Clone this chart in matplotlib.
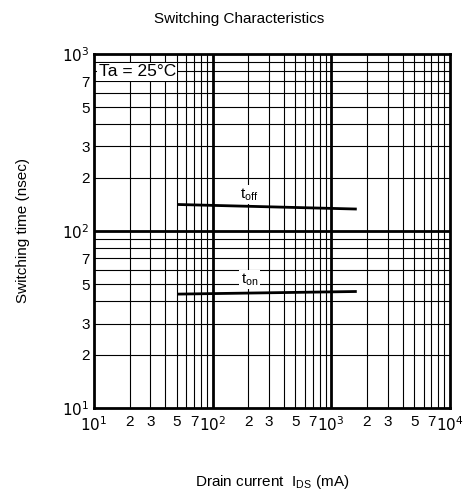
import numpy as np
import matplotlib.pyplot as plt
from matplotlib.ticker import FixedLocator, NullLocator

plt.rcParams['font.family'] = ['Liberation Sans', 'DejaVu Sans']

# data
ids_toff = [52, 1600]
toff = [141, 133]
ids_ton = [52, 1600]
ton = [44, 45.5]

x_ticks = [10, 20, 30, 50, 70, 100, 200, 300, 500, 700, 1000, 2000, 3000, 5000, 7000, 10000]
x_labels = ['$10^1$', '2', '3', '5', '7', '$10^2$', '2', '3', '5', '7', '$10^3$', '2', '3', '5', '7', '$10^4$']
y_ticks = [10, 20, 30, 50, 70, 100, 200, 300, 500, 700, 1000]
y_labels = ['$10^1$', '2', '3', '5', '7', '$10^2$', '2', '3', '5', '7', '$10^3$']

fig = plt.figure(figsize=(4.74, 4.94), dpi=100)
ax = fig.add_axes([0.198, 0.174, 0.751, 0.717])
ax.set_xscale('log')
ax.set_yscale('log')
ax.set_xlim(10, 10000)
ax.set_ylim(10, 1000)

# grid: minor lines thin, decade lines thick
for dec in [10, 100, 1000]:
    for m in range(2, 10):
        ax.axvline(dec * m, color='black', lw=0.8, zorder=1)
for dec in [10, 100]:
    for m in range(2, 10):
        ax.axhline(dec * m, color='black', lw=0.8, zorder=1)
for v in [100, 1000]:
    ax.axvline(v, color='black', lw=2.0, zorder=1)
ax.axhline(100, color='black', lw=2.0, zorder=1)

ax.plot(ids_toff, toff, color='black', lw=2.0, zorder=3)
ax.plot(ids_ton, ton, color='black', lw=2.0, zorder=3)

box = dict(facecolor='white', edgecolor='none', pad=1)
ax.text(205, 160, '$\\mathregular{t_{off}}$', fontsize=11, ha='center', va='center', bbox=box, zorder=4)
ax.text(205, 53, '$\\mathregular{t_{on}}$', fontsize=11, ha='center', va='center', bbox=box, zorder=4)
ax.text(11.0, 790, 'Ta = 25°C', fontsize=12.5, ha='left', va='center', bbox=box, zorder=4)

ax.xaxis.set_major_locator(FixedLocator(x_ticks))
ax.xaxis.set_minor_locator(NullLocator())
ax.set_xticklabels(x_labels, fontsize=11)
ax.yaxis.set_major_locator(FixedLocator(y_ticks))
ax.yaxis.set_minor_locator(NullLocator())
ax.set_yticklabels(y_labels, fontsize=11)
ax.tick_params(axis='x', length=0, pad=5)
ax.tick_params(axis='y', length=0, pad=3)

for s in ax.spines.values():
    s.set_linewidth(2.0)

fig.suptitle('Switching Characteristics', fontsize=11, x=0.505, y=0.975)
ax.set_ylabel('Switching time (nsec)', fontsize=11, labelpad=23)
ax.set_xlabel('Drain current  I$\\mathregular{_{DS}}$ (mA)', fontsize=11, labelpad=28)

fig.savefig('out.png', dpi=100)
